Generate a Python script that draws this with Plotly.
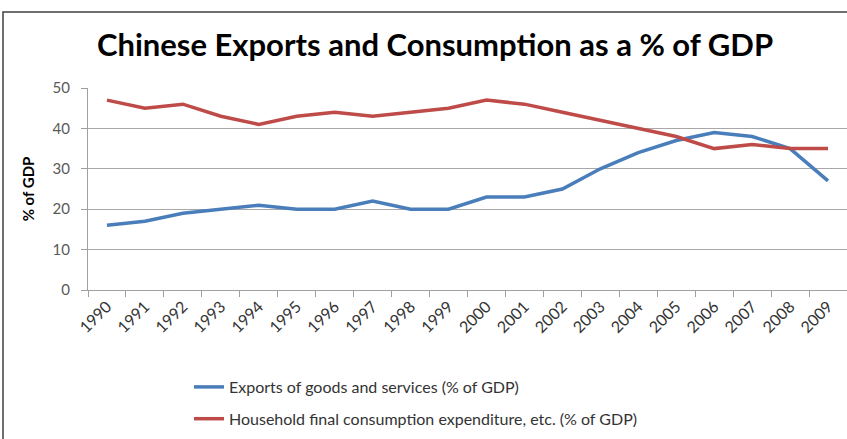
import plotly.graph_objects as go

years = [str(y) for y in range(1990, 2010)]
exports = [16, 17, 19, 20, 21, 20, 20, 22, 20, 20, 23, 23, 25, 30, 34, 37, 39, 38, 35, 27]
consumption = [47, 45, 46, 43, 41, 43, 44, 43, 44, 45, 47, 46, 44, 42, 40, 38, 35, 36, 35, 35]
y_ticks = [0, 10, 20, 30, 40, 50]

W, H = 847, 439
L, R, T, B = 88, 0, 88, 149
pw = W - L - R
ph = H - T - B

def px_x(p):
    return (p - L) / pw

def px_y(p):
    return (H - B - p) / ph

fig = go.Figure()
fig.add_trace(go.Scatter(x=years, y=exports, mode="lines",
                         name="Exports of goods and services (% of GDP)",
                         line=dict(color="#4A7EBB", width=3.5), legendgroup="a"))
fig.add_trace(go.Scatter(x=years, y=consumption, mode="lines",
                         name="Household final consumption expenditure, etc. (% of GDP)",
                         line=dict(color="#BE4B48", width=3.5), legendgroup="b"))

fig.update_layout(
    width=W, height=H,
    margin=dict(l=L, r=R, t=T, b=B, autoexpand=False),
    paper_bgcolor="white", plot_bgcolor="white",
    title=dict(text="<b>Chinese Exports and Consumption as a % of GDP</b>",
               font=dict(family="Lato", size=31, color="black"),
               x=(93 + 777) / 2 / W, xanchor="center", y=1 - 45 / H, yanchor="middle"),
    font=dict(family="Lato", color="#404040"),
    xaxis=dict(type="category", tickson="boundaries", showgrid=False,
               showline=True, linecolor="#A0A0A0", linewidth=1,
               ticks="outside", ticklen=6, tickcolor="#A0A0A0",
               tickangle=-45, tickfont=dict(size=16, color="#333333"),
               range=[-0.5, 19.5], automargin=False),
    yaxis=dict(range=[0, 50], tickvals=y_ticks, showgrid=True, gridcolor="#A8A8A8",
               gridwidth=1, showline=True, linecolor="#A0A0A0", ticks="outside",
               ticklen=6, tickcolor="#A0A0A0", tickfont=dict(size=15, color="#595959"),
               ticklabelstandoff=8,
               zeroline=False, automargin=False,
               title=dict(text="<b>% of GDP</b>", font=dict(size=15, color="black"), standoff=14)),
    showlegend=True,
    legend=dict(x=px_x(189), y=px_y(370), xanchor="left", yanchor="top",
                font=dict(size=16, color="#333333"), tracegroupgap=8,
                bgcolor="rgba(0,0,0,0)"),
    shapes=[dict(type="rect", xref="paper", yref="paper",
                 x0=px_x(3), x1=px_x(W + 10), y0=px_y(H + 10), y1=px_y(12),
                 line=dict(color="#404040", width=1.5), fillcolor="rgba(0,0,0,0)",
                 layer="above")],
)

fig.write_html("out.html", config={"displayModeBar": False},
               post_script="document.body.style.margin='0';document.body.style.overflow='hidden';")
